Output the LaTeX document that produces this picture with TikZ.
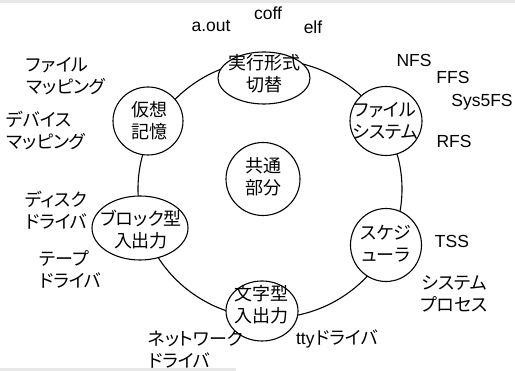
\documentclass[tikz,border=0pt]{standalone}
\usepackage{fontspec}
\setmainfont{Liberation Sans}
\newfontfamily\cjk[RawFeature=+palt]{Noto Sans CJK JP}
\usetikzlibrary{shapes.geometric}
\begin{document}
\begin{tikzpicture}[x=1pt,y=-1pt,
  txt/.style={inner sep=0pt, align=center, font=\fontsize{17.5}{22}\selectfont},
  ltxt/.style={inner sep=0pt, align=left, font=\fontsize{18}{22}\selectfont\cjk},
  jtxt/.style={inner sep=0pt, align=center, font=\fontsize{18}{22}\selectfont\cjk},
  partshape/.style={draw, fill=white, ellipse, inner sep=0pt, line width=1.1pt},
  ringshape/.style={draw, ellipse, inner sep=0pt, line width=1.1pt}]
\useasboundingbox (0,0) rectangle (515,371);
\fill[gray!18] (0,0) rectangle (515,3);
\fill[gray!18] (0,368) rectangle (236,371);
% ring
\node[ringshape, minimum width=264pt, minimum height=258pt] (ring) at (270,189) {};
% parts
\node[partshape, minimum width=92pt, minimum height=52pt] (exe) at (264,78) {};
\node[partshape, minimum width=72pt, minimum height=69pt] (fs) at (386,121) {};
\node[partshape, minimum width=71pt, minimum height=73pt] (sch) at (386,245) {};
\node[partshape, minimum width=72pt, minimum height=60pt] (chr) at (262,311) {};
\node[partshape, minimum width=96pt, minimum height=64pt] (blk) at (140,228) {};
\node[partshape, minimum width=70pt, minimum height=68pt] (vm) at (148,121) {};
\node[partshape, minimum width=74pt, minimum height=73pt] (com) at (263,179) {};
% part texts
\node[jtxt] (exet) at (264,74) {実行形式\\切替};
\node[jtxt] (fst) at (385,121) {ファイル\\システム};
\node[jtxt] (scht) at (386,244) {スケジ\\ューラ};
\node[jtxt] (chrt) at (261,305) {文字型\\入出力};
\node[jtxt] (blkt) at (141,230) {ブロック型\\入出力};
\node[jtxt] (vmt) at (149,121) {仮想\\記憶};
\node[jtxt] (comt) at (263,177) {共通\\部分};
% outer labels
\node[txt] (coff) at (268,13) {coff};
\node[txt] (aout) at (211,26) {a.out};
\node[txt] (elf) at (313,27) {elf};
\node[txt] (nfs) at (414,60) {NFS};
\node[txt] (ffs) at (453,77) {FFS};
\node[txt] (s5fs) at (482,102) {Sys5FS};
\node[txt] (rfs) at (454,141) {RFS};
\node[txt] (tss) at (452,241) {TSS};
\node[jtxt] (sysp) at (454,294) {システム\\プロセス};
\node[txt] (tty) at (337,339) {tty\kern1pt{\cjk\fontsize{18}{22}\selectfont ドライバ}};
\node[ltxt, anchor=west] (net) at (148,350) {ネットワーク\\ドライバ};
\node[ltxt, anchor=west] (tape) at (39,269) {テープ\\ドライバ};
\node[ltxt, anchor=west] (disk) at (25,210) {ディスク\\ドライバ};
\node[ltxt, anchor=west] (fmap) at (26,76) {ファイル\\マッピング};
\node[ltxt, anchor=west] (dmap) at (6,131) {デバイス\\マッピング};
\end{tikzpicture}
\end{document}
